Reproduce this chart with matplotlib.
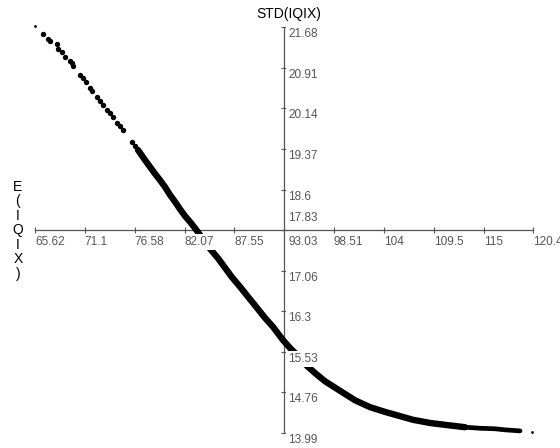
import matplotlib
matplotlib.use("Agg")
import matplotlib.pyplot as plt

plt.rcParams['font.family'] = ['Liberation Sans', 'DejaVu Sans']

# scattered points, upper left (E(IQIX), STD(IQIX))
sparse_x = [66.50, 67.05, 67.27, 68.04, 68.15, 68.59, 68.92, 69.47, 69.69, 69.80,
            70.57, 70.90, 71.23, 71.67, 71.89, 72.44, 72.77, 73.10, 73.54, 73.87,
            74.20, 74.64, 74.97, 75.30, 76.29, 76.62]
sparse_y = [21.55, 21.45, 21.41, 21.36, 21.26, 21.21, 21.11, 21.04, 21.00, 20.94,
            20.77, 20.71, 20.64, 20.52, 20.47, 20.35, 20.28, 20.20, 20.11, 20.05,
            19.98, 19.86, 19.81, 19.73, 19.50, 19.43]

# dense band of points
dense_x = [76.95, 77.72, 78.27, 78.82, 79.37, 79.92, 80.47, 81.02, 81.57, 82.12,
           82.67, 83.22, 83.77, 84.32, 84.87, 85.75, 86.52, 87.29, 88.17, 89.05,
           90.04, 90.92, 91.80, 92.90, 93.67, 94.55, 95.54, 96.53, 97.52, 99.17,
           100.82, 102.47, 104.12, 105.77, 107.20, 109.07, 110.94, 112.92, 114.57,
           116.22, 117.32, 118.97]
dense_y = [19.35, 19.16, 19.03, 18.90, 18.78, 18.65, 18.50, 18.37, 18.23, 18.10,
           17.99, 17.87, 17.74, 17.61, 17.48, 17.30, 17.12, 16.94, 16.76, 16.57,
           16.36, 16.17, 16.00, 15.75, 15.60, 15.45, 15.26, 15.11, 14.97, 14.79,
           14.61, 14.48, 14.39, 14.31, 14.24, 14.18, 14.14, 14.10, 14.08,
           14.07, 14.05, 14.03]

# two lone points at the ends
stray_x = [65.62, 120.29]
stray_y = [21.70, 14.01]

xticks = [65.62, 71.1, 76.58, 82.07, 87.55, 93.03, 98.51, 104, 109.5, 115, 120.4]
xlabels = ['65.62', '71.1', '76.58', '82.07', '87.55', '93.03', '98.51', '104',
           '109.5', '115', '120.4']
yticks = [13.99, 14.76, 15.53, 16.3, 17.06, 17.83, 18.6, 19.37, 20.14, 20.91, 21.68]
ylabels = ['13.99', '14.76', '15.53', '16.3', '17.06', '17.83', '18.6', '19.37',
           '20.14', '20.91', '21.68']
x_cross = 93.03
y_cross = 17.83

fig = plt.figure(figsize=(5.6, 4.48), dpi=100)
ax = fig.add_axes([0, 0, 1, 1])
ax.set_xlim(61.77, 123.37)
ax.set_ylim(13.706, 22.191)

# thick band, thinning towards the right end
ax.plot(dense_x[:-4], dense_y[:-4], color='black', lw=4.6,
        solid_capstyle='round', zorder=3)
ax.plot(dense_x[-5:], dense_y[-5:], color='black', lw=3.4,
        solid_capstyle='round', zorder=3)
ax.scatter(sparse_x, sparse_y, s=15, color='black', lw=0, zorder=3)
ax.scatter(stray_x, stray_y, s=4, color='black', lw=0, zorder=3)

axis_col = '#555555'
for s in ['top', 'right']:
    ax.spines[s].set_visible(False)
ax.spines['left'].set_position(('data', x_cross))
ax.spines['bottom'].set_position(('data', y_cross))
ax.spines['left'].set_bounds(yticks[0], yticks[-1])
ax.spines['bottom'].set_bounds(xticks[0], xticks[-1])
for s in ['left', 'bottom']:
    ax.spines[s].set_color(axis_col)
    ax.spines[s].set_linewidth(0.9)
ax.set_xticks(xticks)
ax.set_yticks(yticks)
ax.tick_params(direction='inout', length=5, width=0.8, color=axis_col,
               labelbottom=False, labelleft=False)

box = dict(facecolor='white', edgecolor='none', pad=1.5)
txt_col = '#555555'
for v, lab in zip(xticks, xlabels):
    dx = 4 if v == x_cross else 0
    ax.annotate(lab, xy=(v, y_cross), xytext=(dx, -6), textcoords='offset pixels',
                ha='left', va='top', fontsize=8.5, color=txt_col, bbox=box, zorder=4)
for v, lab in zip(yticks, ylabels):
    if v == y_cross:
        ax.annotate(lab, xy=(x_cross, v), xytext=(4, 6), textcoords='offset pixels',
                    ha='left', va='bottom', fontsize=8.5, color=txt_col, bbox=box, zorder=4)
    else:
        ax.annotate(lab, xy=(x_cross, v), xytext=(4, -1), textcoords='offset pixels',
                    ha='left', va='top', fontsize=8.5, color=txt_col, bbox=box, zorder=4)

ax.annotate('STD(IQIX)', xy=(x_cross, yticks[-1]), xytext=(5, 6),
            textcoords='offset pixels', ha='center', va='bottom', fontsize=10)
ax.annotate('E\n(\nI\nQ\nI\nX\n)', xy=(xticks[0], y_cross), xytext=(-17, 0),
            textcoords='offset pixels', ha='center', va='center', fontsize=10,
            linespacing=1.05)

fig.savefig('out.png', dpi=100)
